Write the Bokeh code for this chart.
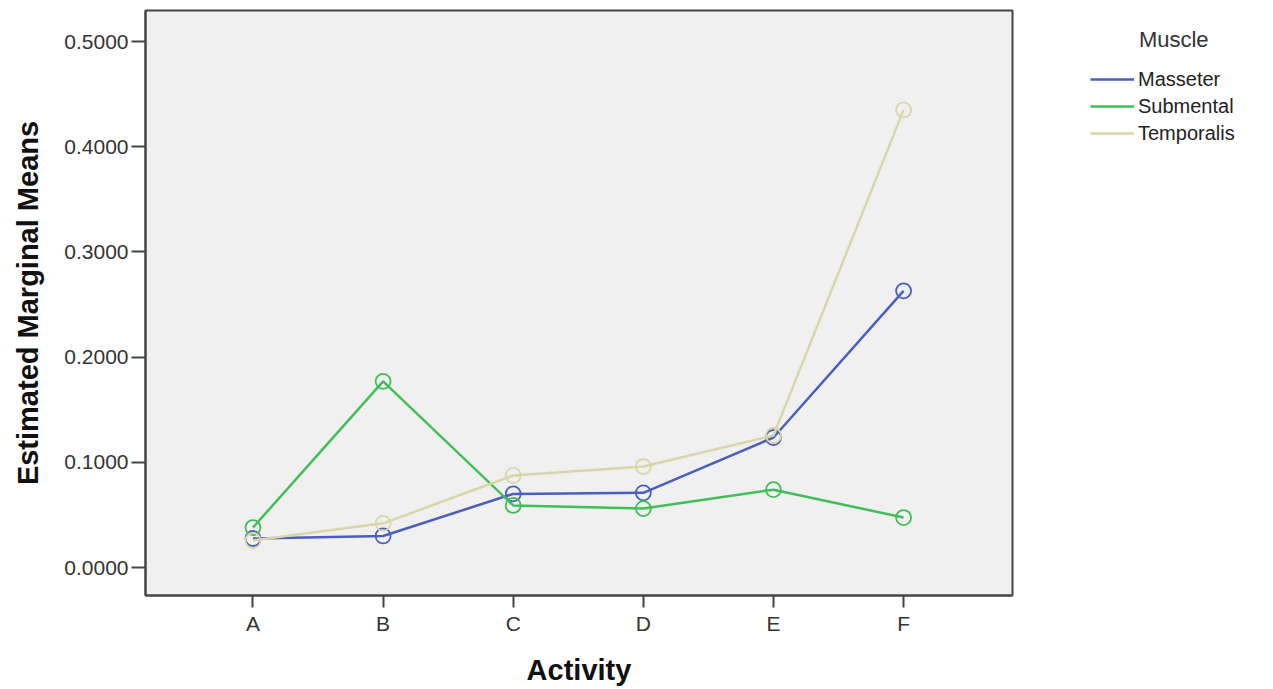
from bokeh.plotting import figure
from bokeh.models import Legend, LegendItem, Range1d, FixedTicker
from bokeh.embed import file_html
from bokeh.resources import INLINE

activities = ["A", "B", "C", "D", "E", "F"]
masseter = [0.0276, 0.030, 0.070, 0.071, 0.1236, 0.263]
submental = [0.038, 0.177, 0.059, 0.056, 0.074, 0.0475]
temporalis = [0.0257, 0.042, 0.0875, 0.096, 0.1255, 0.435]
series_names = ["Masseter", "Submental", "Temporalis"]
colors = ["#4a5fbd", "#3fbf55", "#d9d6a6"]
y_ticks = [0.0, 0.1, 0.2, 0.3, 0.4, 0.5]
legend_title = "Muscle"

FONT = "Liberation Sans"
xs = list(range(len(activities)))

p = figure(width=1262, height=681, output_backend="svg", toolbar_location=None,
           x_range=Range1d(-0.826, 5.837), y_range=Range1d(-0.0266, 0.5295),
           frame_width=867, frame_height=585,
           min_border_left=145, min_border_top=10, min_border_right=250, min_border_bottom=86)
p.background_fill_color = "#f0f0f0"
p.border_fill_color = "white"
p.outline_line_color = "#444444"
p.outline_line_width = 2
p.xgrid.visible = False
p.ygrid.visible = False

p.xaxis.ticker = FixedTicker(ticks=xs)
p.xaxis.major_label_overrides = {i: a for i, a in enumerate(activities)}
p.yaxis.ticker = FixedTicker(ticks=y_ticks)
p.yaxis.major_label_overrides = {t: f"{t:.4f}" for t in y_ticks}
for ax in (p.xaxis, p.yaxis):
    ax.axis_line_color = "#444444"
    ax.axis_line_width = 2
    ax.major_tick_line_color = "#444444"
    ax.major_tick_line_width = 2
    ax.major_tick_in = 0
    ax.minor_tick_line_color = None
    ax.major_label_text_font = FONT
    ax.major_label_text_font_size = "21px"
    ax.major_label_text_color = "#333333"
    ax.axis_label_text_font = FONT
    ax.axis_label_text_font_style = "bold"
    ax.axis_label_text_font_size = "29px"
    ax.axis_label_text_color = "#111111"
p.xaxis.axis_label = "Activity"
p.yaxis.axis_label = "Estimated Marginal Means"
p.xaxis.major_tick_out = 12
p.yaxis.major_tick_out = 14
p.xaxis.major_label_standoff = 4
p.xaxis.axis_label_standoff = 16
p.yaxis.major_label_standoff = 3
p.yaxis.axis_label_standoff = 17

items = []
for name, vals, c in zip(series_names, [masseter, submental, temporalis], colors):
    r = p.line(xs, vals, line_color=c, line_width=2.5)
    p.scatter(xs, vals, marker="circle", size=15, fill_color=None, line_color=c, line_width=1.8)
    items.append(LegendItem(label=name, renderers=[r]))

legend = Legend(items=items, location=(78, 449), orientation="vertical",
                title="\u00a0" * 8 + legend_title)
legend.border_line_color = None
legend.background_fill_alpha = 0
legend.padding = 0
legend.margin = 0
legend.spacing = 1
legend.glyph_width = 44
legend.glyph_height = 26
legend.label_height = 26
legend.label_standoff = 4
legend.label_text_font = FONT
legend.label_text_font_size = "20px"
legend.label_text_color = "#222222"
legend.title_text_font = FONT
legend.title_text_font_style = "normal"
legend.title_text_font_size = "22px"
legend.title_text_color = "#333333"
legend.title_standoff = 13
p.add_layout(legend, "right")

open("out.html", "w").write(file_html(p, INLINE))
